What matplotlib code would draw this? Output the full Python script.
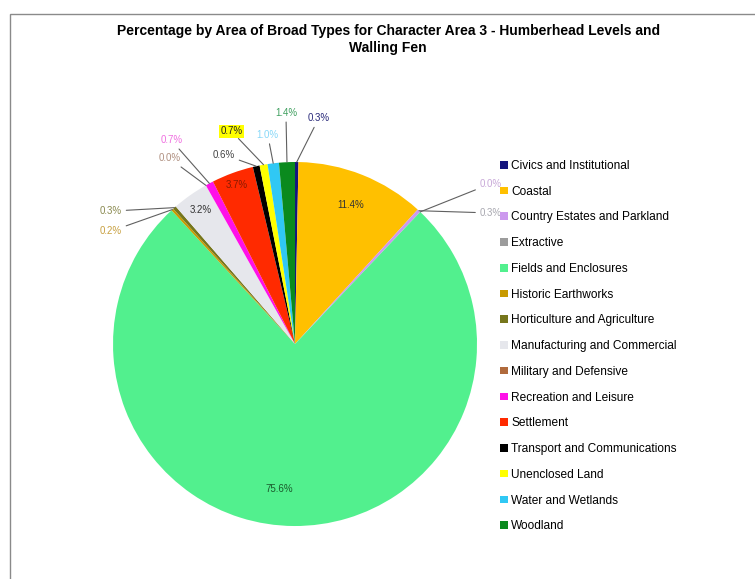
import matplotlib.pyplot as plt
import numpy as np
from matplotlib.patches import Patch, Rectangle

# percentage by area of each broad type
tipos = ['Civics and Institutional', 'Coastal', 'Country Estates and Parkland',
         'Extractive', 'Fields and Enclosures', 'Historic Earthworks',
         'Horticulture and Agriculture', 'Manufacturing and Commercial',
         'Military and Defensive', 'Recreation and Leisure', 'Settlement',
         'Transport and Communications', 'Unenclosed Land',
         'Water and Wetlands', 'Woodland']
valores = [0.3, 11.4, 0.3, 0.0, 75.6, 0.2, 0.3, 3.2, 0.0, 0.7, 3.7, 0.6, 0.7, 1.0, 1.4]

cores = ['#14147e', '#ffc000', '#cc99ee', '#9c9c9c', '#52f08e', '#c89a00',
         '#76761c', '#e6e7ec', '#b06a3c', '#ff10e8', '#ff2a00', '#000000',
         '#ffff00', '#30c8f4', '#0a8a1e']

# onde fica o texto de cada rótulo (None = dentro da fatia)
pos_rotulos = [(0.13, 1.24), None, (1.135, 0.72), (1.135, 0.88), None,
               (-0.95, 0.62), (-0.95, 0.73), None, (-0.69, 1.02),
               (-0.68, 1.12), None, (-0.39, 1.04), (-0.35, 1.17),
               (-0.15, 1.15), (-0.05, 1.27)]
raio_interno = {1: 0.82, 4: 0.8, 7: 0.9, 10: 0.93}
cor_texto = ['#2a2a7a', '#333333', '#a8a8b0', '#c8a8d8', '#1b5a2c', '#c8a040',
             '#8a8a50', '#333333', '#b09080', '#f070e0', '#8a1a00', '#444444',
             '#222222', '#88d8f8', '#40a060']

fig = plt.figure(figsize=(7.55, 5.79), dpi=100)
fig.patches.append(Rectangle((10 / 755, -0.01), 1.0, 1 - 14 / 579 + 0.01,
                             transform=fig.transFigure, fill=False,
                             edgecolor='#8a8a8a', lw=1.0))

fig.text(0.514, 0.958, 'Percentage by Area of Broad Types for Character Area 3 - Humberhead Levels and\nWalling Fen',
         ha='center', va='top', fontsize=10, fontweight='bold',
         family='Liberation Sans', linespacing=1.2)

ax = fig.add_axes([0.1497, 0.0915, 0.4821, 0.6287])
fatias, _ = ax.pie(valores, colors=cores, startangle=90, counterclock=False,
                   radius=1, wedgeprops=dict(linewidth=0))
ax.set_xlim(-1, 1)
ax.set_ylim(-1, 1)
ax.set_aspect('auto')
ax.axis('off')

for i, w in enumerate(fatias):
    ang = np.deg2rad((w.theta1 + w.theta2) / 2)
    txt = f'{valores[i]:.1f}%'
    pos = pos_rotulos[i]
    if pos is None:
        # rótulo dentro da fatia
        r = raio_interno[i]
        if i == 4:
            ang -= 0.1
        ax.text(r * np.cos(ang), r * np.sin(ang), txt, ha='center', va='center',
                fontsize=7, color=cor_texto[i], family='Liberation Sans')
        continue
    borda = (np.cos(ang), np.sin(ang))
    if abs(pos[0]) > 0.8:
        ha = 'right'
    else:
        ha = 'center'
    caixa = None
    if tipos[i] == 'Unenclosed Land':
        caixa = dict(boxstyle='square,pad=0.15', fc='#ffff00', ec='none')
    ax.annotate(txt, xy=borda, xytext=pos, ha=ha, va='center', fontsize=7,
                color=cor_texto[i], family='Liberation Sans', bbox=caixa,
                arrowprops=dict(arrowstyle='-', color='#606060', lw=0.8,
                                shrinkA=1, shrinkB=0))

handles = [Patch(facecolor=c, edgecolor='none') for c in cores]
fig.legend(handles, tipos, loc='upper left', bbox_to_anchor=(0.655, 0.734),
           frameon=False, handlelength=0.6, handleheight=0.6,
           handletextpad=0.3, labelspacing=1.15, borderpad=0,
           prop=dict(family='Liberation Sans', size=8.6))

fig.savefig('out.png', dpi=100, facecolor='white')
